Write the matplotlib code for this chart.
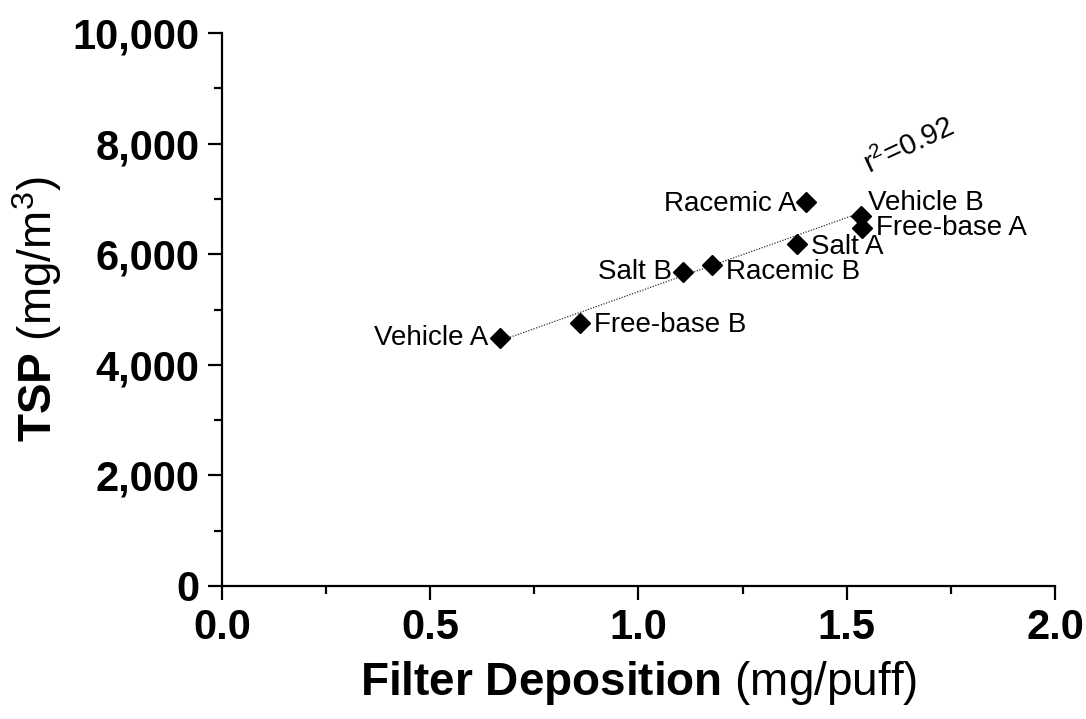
import matplotlib
matplotlib.use("Agg")
import matplotlib.pyplot as plt
from matplotlib.ticker import MultipleLocator, FuncFormatter
import numpy as np

plt.rcParams['font.family'] = ['Liberation Sans', 'DejaVu Sans']
plt.rcParams['mathtext.fontset'] = 'custom'
plt.rcParams['mathtext.rm'] = 'Liberation Sans'
plt.rcParams['mathtext.bf'] = 'Liberation Sans:bold'
plt.rcParams['mathtext.it'] = 'Liberation Sans:italic'

names = ["Vehicle A", "Free-base B", "Salt B", "Racemic B", "Salt A",
         "Racemic A", "Vehicle B", "Free-base A"]
filter_dep = [0.667, 0.860, 1.107, 1.176, 1.380, 1.402, 1.534, 1.537]
tsp = [4490, 4750, 5680, 5810, 6190, 6940, 6700, 6480]
r2_text = "r$^2$=0.92"

# label offsets (points) and alignment
offsets = {
    "Vehicle A": (-8, 0, 'right'),
    "Free-base B": (10, -1, 'left'),
    "Salt B": (-8, 0, 'right'),
    "Racemic B": (10, -5, 'left'),
    "Salt A": (10, -2, 'left'),
    "Racemic A": (-7, -1, 'right'),
    "Vehicle B": (5, 9, 'left'),
    "Free-base A": (10, 0, 'left'),
}

fig = plt.figure(figsize=(10.86, 7.19), dpi=100)
ax = fig.add_axes([0.2044, 0.185, 0.767, 0.769])

x = np.array(filter_dep)
y = np.array(tsp)
slope, intercept = np.polyfit(x, y, 1)
xl = np.array([x.min(), x.max()])
ax.plot(xl, slope * xl + intercept, linestyle=(0, (1, 1.2)), color='#333333', lw=0.9, zorder=1)

ax.plot(x, y, linestyle='none', marker='D', markersize=10, color='black', zorder=3)

for n, xi, yi in zip(names, filter_dep, tsp):
    dx, dy, ha = offsets[n]
    ax.annotate(n, (xi, yi), xytext=(dx, dy), textcoords='offset points',
                ha=ha, va='center', fontsize=20)

ax.text(1.56, 7350, r2_text, fontsize=21, rotation=25, ha='left', va='bottom',
        rotation_mode='anchor')

ax.set_xlim(0, 2.0)
ax.set_ylim(0, 10000)
ax.xaxis.set_major_locator(MultipleLocator(0.5))
ax.xaxis.set_minor_locator(MultipleLocator(0.25))
ax.yaxis.set_major_locator(MultipleLocator(2000))
ax.yaxis.set_minor_locator(MultipleLocator(1000))
ax.xaxis.set_major_formatter(FuncFormatter(lambda v, p: f"{v:.1f}"))
ax.yaxis.set_major_formatter(FuncFormatter(lambda v, p: f"{int(v):,}"))

for s in ['top', 'right']:
    ax.spines[s].set_visible(False)
for s in ['left', 'bottom']:
    ax.spines[s].set_linewidth(1.6)

ax.tick_params(which='major', length=10, width=1.6, labelsize=30, pad=6)
ax.tick_params(which='minor', length=6, width=1.6)
for lbl in ax.get_xticklabels() + ax.get_yticklabels():
    lbl.set_fontweight('bold')

ax.set_xlabel(r"$\mathbf{Filter\ Deposition}$ (mg/puff)", fontsize=33, labelpad=8)
ax.set_ylabel(r"$\mathbf{TSP}$ (mg/m$^{3}$)", fontsize=33, labelpad=6)

fig.savefig("out.png", dpi=100)
